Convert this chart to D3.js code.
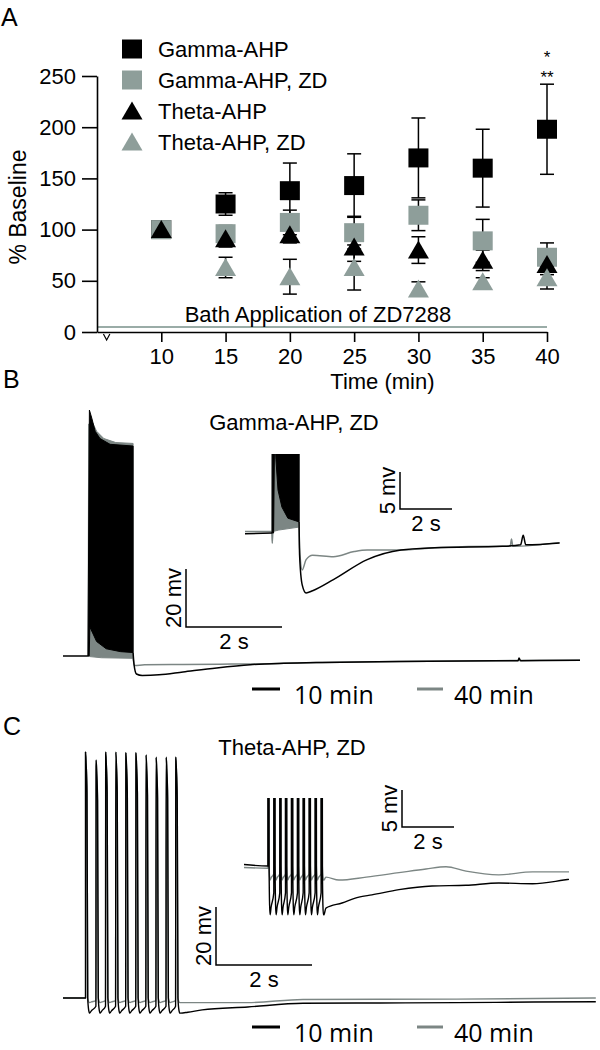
<!DOCTYPE html>
<html>
<head>
<meta charset="utf-8">
<script src="https://cdn.jsdelivr.net/npm/d3@7"></script>
<style>
  body { margin: 0; background: #fff; }
  svg text { font-family: 'Liberation Sans', Arial, Helvetica, sans-serif; fill: #000; }
</style>
</head>
<body>
<svg id="chart"></svg>
<script>
// ---------- panel A: % baseline over time ----------
const times = [10, 15, 20, 25, 30, 35, 40]
const gammaMean = [100, 125, 138, 143, 170, 160, 198]
const gammaErr = [0, 11, 27, 31, 39, 38, 44]
const gammaZdMean = [100, 96, 107, 97, 114, 89, 73]
const gammaZdErr = [0, 8, 12, 16, 15, 21, 14]
const thetaMean = [100, 91, 95, 83, 80, 70, 66]
const thetaErr = [0, 8, 8, 14, 13, 10, 10]
const thetaZdTimes = [15, 20, 25, 30, 35, 40]
const thetaZdMean = [63, 54, 63, 42, 49, 53]
const thetaZdErr = [10, 17, 22, 7, 4, 11]
const yTicks = [0, 50, 100, 150, 200, 250]
const legendNames = ['Gamma-AHP', 'Gamma-AHP, ZD', 'Theta-AHP', 'Theta-AHP, ZD']
const stars = ['*', '**']

// ---------- panel B: gamma burst traces (s, mV from rest) ----------
const bPre = [[0, 0], [0.52, 0]]
const bTop10 = [[0.52, 0], [0.55, 84.8], [0.6, 82], [0.67, 77.5], [0.77, 75], [0.98, 73], [1.46, 72.4]]
const bBot10 = [[0.52, 0], [0.545, 0], [0.56, 10], [0.7, 5], [0.9, 2.5], [1.2, 1.5], [1.46, 1.2]]
const bTop40 = [[0.52, 0], [0.535, 80], [0.6, 81], [0.7, 77.5], [0.85, 75], [1.1, 73.6], [1.46, 73.3]]
const bBot40 = [[0.52, 0], [0.56, -0.2], [0.8, -0.6], [1.46, -0.8]]
const bPost10 = [[1.46, 1.2], [1.48, -3], [1.53, -6.2], [1.65, -6.7], [2.0, -6.5], [2.5, -5.5], [3.2, -4.1],
  [3.9, -3.0], [4.6, -2.5], [5.4, -2.2], [7, -1.9], [9, -1.6], [9.48, -1.6], [9.5, -0.7], [9.53, -1.6], [10.77, -1.5]]
const bPost40 = [[1.46, -0.8], [1.49, -3.3], [1.7, -3.0], [2.5, -2.9], [3.5, -2.8], [4.2, -2.7], [4.6, -2.5],
  [5.4, -2.2], [7, -1.9], [9, -1.6], [10.77, -1.5]]
// inset (zoomed, clipped)
const biPre10 = [[0, -0.1], [1.04, 0]]
const biPre40 = [[0, 0.2], [1.03, 0.2], [1.05, -1.4], [1.07, 0.2]]
const biTop10 = [[1.04, 0], [1.07, 84], [1.5, 75], [2.08, 72]]
const biBot10 = [[1.04, 0], [1.1, 0], [1.14, 14], [1.19, 9.9], [1.27, 5.8], [1.42, 3.5], [1.65, 2.0], [2.08, 1.5]]
const biTop40 = [[1.04, 0], [1.07, 84], [1.5, 75], [2.08, 72]]
const biBot40 = [[1.04, 0.2], [1.07, 0.2], [1.3, 0.4], [2.08, 0.8]]
const biPost10 = [[2.08, 1.5], [2.1, -3], [2.2, -7], [2.35, -8.1], [2.6, -7.8], [3.4, -6.3], [4.7, -3.6], [6.0, -2.3],
  [7.3, -2.0], [9.9, -1.8], [10.6, -1.6], [10.7, -0.3], [10.8, -1.6], [12.1, -1.35]]
const biPost40 = [[2.08, 0.8], [2.1, -2], [2.2, -5], [2.35, -3.6], [2.6, -3.0], [3.4, -3.2], [4.2, -2.5], [4.7, -2.3],
  [6, -2.3], [7.3, -2.0], [9.9, -1.8], [10.2, -1.8], [10.25, -0.8], [10.3, -1.8], [12.1, -1.3]]

// ---------- panel C: theta spike train traces ----------
const cSpikeT = [0.47, 0.69, 0.89, 1.10, 1.31, 1.52, 1.73, 1.94, 2.15, 2.35]
const cPeak = [84.8, 82, 84.8, 84.8, 84.5, 84.5, 83.8, 83, 83, 83]
const cPre = [[0, 0], [0.47, 0]]
const cTrough10 = -5.2
const cTrough40 = -1.6
const cPost10 = [[2.45, -5.2], [2.6, -4.9], [2.9, -4.1], [3.85, -3.1], [5.0, -1.8], [6.6, -1.7], [8.2, -1.6], [9.8, -1.4], [11.1, -1.3]]
const cPost40 = [[2.45, -1.6], [3.85, -1.6], [5.0, -0.5], [8.2, -0.4], [11.1, 0]]
// inset
const ciSpikeT = [0.92, 1.15, 1.38, 1.60, 1.83, 2.06, 2.28, 2.51, 2.74, 2.97]
const ciPre10 = [[0, 0.2], [0.92, 0]]
const ciPre40 = [[0, -0.2], [0.92, -0.3]]
const ciTrough10 = -6.6
const ciTrough40 = -1.9
const ciPost10 = [[3.07, -6.6], [3.15, -5.7], [3.77, -5.0], [4.42, -4.2], [4.92, -3.9], [5.96, -3.2], [7.23, -2.7],
  [8.54, -2.6], [9.8, -2.3], [11.1, -2.4], [12.3, -1.9], [12.5, -1.8]]
const ciPost40 = [[3.07, -1.9], [3.15, -1.5], [3.65, -1.9], [4.7, -1.5], [5.96, -0.9], [7.0, -0.4], [7.77, -0.1],
  [8.54, -0.7], [9.8, -1.2], [11.1, -0.8], [12.5, -0.8]]

const BLACK = '#000'
const GREY = '#8e9e9a'
const TRACE_GREY = '#7c8684'

const svg = d3.select('#chart').attr('width', 600).attr('height', 1050)
svg.append('rect').attr('width', 600).attr('height', 1050).attr('fill', '#fff')

function label(x, y, txt, size, anchor) {
  return svg.append('text').attr('x', x).attr('y', y).text(txt)
    .style('font-size', size + 'px').attr('text-anchor', anchor || 'start')
}

// ================= panel A =================
const x = d3.scaleLinear().domain([5, 40]).range([97, 547])
const y = d3.scaleLinear().domain([0, 250]).range([332, 76])

label(1, 26, 'A', 25)

// bath application bar
svg.append('line').attr('x1', x(5)).attr('x2', x(40)).attr('y1', y(5)).attr('y2', y(5))
  .attr('stroke', '#9aaca7').attr('stroke-width', 2)
label((x(5) + x(40)) / 2 - 4, 322, 'Bath Application of ZD7288', 22, 'middle')

const yAxis = svg.append('g').attr('transform', `translate(${x(5)},0)`)
  .call(d3.axisLeft(y).tickValues(yTicks).tickSize(15).tickSizeOuter(0).tickPadding(6))
const xAxis = svg.append('g').attr('transform', `translate(0,${y(0)})`)
  .call(d3.axisBottom(x).tickValues(times).tickSize(10).tickSizeOuter(0).tickPadding(6))
;[yAxis, xAxis].forEach(g => {
  g.selectAll('path, line').attr('stroke', '#000').attr('stroke-width', 1.6)
  g.selectAll('text').style('font-size', '22px').style('font-family', "'Liberation Sans', Arial, sans-serif")
})
// axis break mark
svg.append('path')
  .attr('d', `M${x(5.5)},${y(0) + 2} L${x(5.75)},${y(0) + 8} L${x(6)},${y(0) + 2}`)
  .attr('fill', 'none').attr('stroke', '#000').attr('stroke-width', 1.2)

label(x(27.2), 389, 'Time (min)', 22, 'middle')
svg.append('text').attr('transform', `translate(26,${y(122)}) rotate(-90)`)
  .attr('text-anchor', 'middle').style('font-size', '23px').text('% Baseline')

const sqPath = 'M-10,-9.5H10V9.5H-10Z'
const triPath = 'M0,-9.5L10.5,8.5H-10.5Z'

const series = [
  { t: times, m: gammaMean, e: gammaErr, path: sqPath, color: BLACK },
  { t: times, m: gammaZdMean, e: gammaZdErr, path: sqPath, color: GREY },
  { t: times, m: thetaMean, e: thetaErr, path: triPath, color: BLACK },
  { t: thetaZdTimes, m: thetaZdMean, e: thetaZdErr, path: triPath, color: GREY }
]

// error bars first, markers on top
series.forEach(s => {
  const rows = s.t.map((t, i) => ({ t, m: s.m[i], e: s.e[i] })).filter(d => d.e > 0)
  const g = svg.append('g').attr('stroke', '#000').attr('stroke-width', 1.5)
  rows.forEach(d => {
    g.append('line').attr('x1', x(d.t)).attr('x2', x(d.t)).attr('y1', y(d.m - d.e)).attr('y2', y(d.m + d.e))
    ;[d.m - d.e, d.m + d.e].forEach(v => {
      g.append('line').attr('x1', x(d.t) - 7).attr('x2', x(d.t) + 7).attr('y1', y(v)).attr('y2', y(v))
    })
  })
})
series.forEach(s => {
  svg.append('g').selectAll('path')
    .data(s.t.map((t, i) => ({ t, m: s.m[i] })))
    .join('path')
    .attr('d', s.path)
    .attr('transform', d => `translate(${x(d.t)},${y(d.m)})`)
    .attr('fill', s.color)
})

// significance stars above last point
stars.forEach((s, i) => label(x(40), 63 + i * 20, s, 17, 'middle'))

// legend
series.forEach((s, i) => {
  const cy = 49 + i * 31
  svg.append('path').attr('d', s.path).attr('transform', `translate(132,${cy})`).attr('fill', s.color)
  label(158, cy + 8, legendNames[i], 22)
})

// ================= trace helpers =================
const lineGen = (sx, sy) => d3.line().x(d => sx(d[0])).y(d => sy(d[1])).curve(d3.curveMonotoneX)
const polyGen = (sx, sy) => d3.line().x(d => sx(d[0])).y(d => sy(d[1]))

function drawPath(g, pts, sx, sy, color, w) {
  g.append('path').attr('d', lineGen(sx, sy)(pts)).attr('fill', 'none')
    .attr('stroke', color).attr('stroke-width', w || 1.5).attr('stroke-linejoin', 'round')
}
function drawBlock(g, top, bottom, sx, sy, color) {
  const pts = top.concat(bottom.slice().reverse())
  g.append('path').attr('d', polyGen(sx, sy)(pts) + 'Z').attr('fill', color)
    .attr('stroke', color).attr('stroke-width', 1)
}
// a spike train: pre-burst points, then each spike, then post-burst points
function spikeTrain(pre, spikeT, peaks, trough, post) {
  const pts = pre.slice()
  spikeT.forEach((t, i) => {
    const last = i === spikeT.length - 1
    if (i > 0) pts.push([t - 0.004, trough * 0.55])
    pts.push([t, peaks[i]], [t + 0.012, peaks[i] - 4], [t + 0.03, peaks[i] - 14], [t + 0.045, 0],
      [t + 0.065, trough * 0.8], [t + 0.085, trough])
    if (!last) pts.push([t + 0.12, trough * 0.85])
  })
  return pts.concat(post)
}
function scaleBar(sx, sy, x0, y0, secs, mv, mvLabel, sLabel) {
  const w = sx(secs) - sx(0)
  const h = sy(0) - sy(mv)
  svg.append('path').attr('d', `M${x0},${y0 - h}V${y0}H${x0 + w}`)
    .attr('fill', 'none').attr('stroke', '#000').attr('stroke-width', 1.5)
  svg.append('text').attr('transform', `translate(${x0 - 5},${y0 - h / 2}) rotate(-90)`)
    .attr('text-anchor', 'middle').style('font-size', '22px').text(mvLabel)
  label(x0 + w / 2, y0 + 22, sLabel, 22, 'middle')
}
function timeLegend(yLine) {
  svg.append('line').attr('x1', 252).attr('x2', 280).attr('y1', yLine).attr('y2', yLine)
    .attr('stroke', BLACK).attr('stroke-width', 3)
  svg.append('line').attr('x1', 417).attr('x2', 443).attr('y1', yLine).attr('y2', yLine)
    .attr('stroke', TRACE_GREY).attr('stroke-width', 3)
  label(294, yLine + 15, '10 min', 25).style('font-family', "'Open Sans', sans-serif")
  label(454, yLine + 15, '40 min', 25).style('font-family', "'Open Sans', sans-serif")
}
function clipRect(id, x0, y0, w, h) {
  svg.append('clipPath').attr('id', id).append('rect')
    .attr('x', x0).attr('y', y0).attr('width', w).attr('height', h)
}

// ================= panel B =================
label(3, 388, 'B', 25)
label(294, 430, 'Gamma-AHP, ZD', 22, 'middle')

const bx = d3.scaleLinear().domain([0, 10.77]).range([63, 580])   // 48 px/s
const by = d3.scaleLinear().domain([0, 20]).range([656, 598])     // 2.9 px/mV
const gB = svg.append('g')
drawBlock(gB, bTop40, bBot40, bx, by, TRACE_GREY)
drawPath(gB, bPost40, bx, by, TRACE_GREY)
drawPath(gB, bPre, bx, by, BLACK)
drawBlock(gB, bTop10, bBot10, bx, by, BLACK)
drawPath(gB, bPost10, bx, by, BLACK)

const bix = d3.scaleLinear().domain([0, 12.1]).range([245, 559.6])  // 26 px/s
const biy = d3.scaleLinear().domain([0, 5]).range([533, 496])       // 7.4 px/mV
clipRect('clipB', 230, 454, 360, 160)
const gBi = svg.append('g').attr('clip-path', 'url(#clipB)')
drawPath(gBi, biPre40, bix, biy, TRACE_GREY)
drawBlock(gBi, biTop40, biBot40, bix, biy, TRACE_GREY)
drawPath(gBi, biPost40, bix, biy, TRACE_GREY)
drawPath(gBi, biPre10, bix, biy, BLACK)
drawBlock(gBi, biTop10, biBot10, bix, biy, BLACK)
drawPath(gBi, biPost10, bix, biy, BLACK)

scaleBar(bx, by, 186, 627, 2, 20, '20 mv', '2 s')
scaleBar(bix, biy, 400, 509, 2, 5, '5 mv', '2 s')
timeLegend(689)

// ================= panel C =================
label(3, 735, 'C', 25)
label(292, 755, 'Theta-AHP, ZD', 22, 'middle')

const cx = d3.scaleLinear().domain([0, 11.1]).range([63, 595.8])
const cy = d3.scaleLinear().domain([0, 20]).range([998, 940])
const gC = svg.append('g')
drawPath(gC, spikeTrain(cPre, cSpikeT, cPeak, cTrough40, cPost40), cx, cy, TRACE_GREY, 1.4)
drawPath(gC, spikeTrain(cPre, cSpikeT, cPeak, cTrough10, cPost10), cx, cy, BLACK, 1.4)

const cix = d3.scaleLinear().domain([0, 12.5]).range([244, 569])
const ciy = d3.scaleLinear().domain([0, 5]).range([866, 829])
clipRect('clipC', 230, 798, 360, 140)
const gCi = svg.append('g').attr('clip-path', 'url(#clipC)')
drawPath(gCi, spikeTrain(ciPre40, ciSpikeT, cPeak, ciTrough40, ciPost40), cix, ciy, TRACE_GREY, 1.4)
drawPath(gCi, spikeTrain(ciPre10, ciSpikeT, cPeak, ciTrough10, ciPost10), cix, ciy, BLACK, 1.4)

scaleBar(cx, cy, 216, 965, 2, 20, '20 mv', '2 s')
scaleBar(cix, ciy, 402, 827, 2, 5, '5 mv', '2 s')
timeLegend(1027)
</script>
</body>
</html>
